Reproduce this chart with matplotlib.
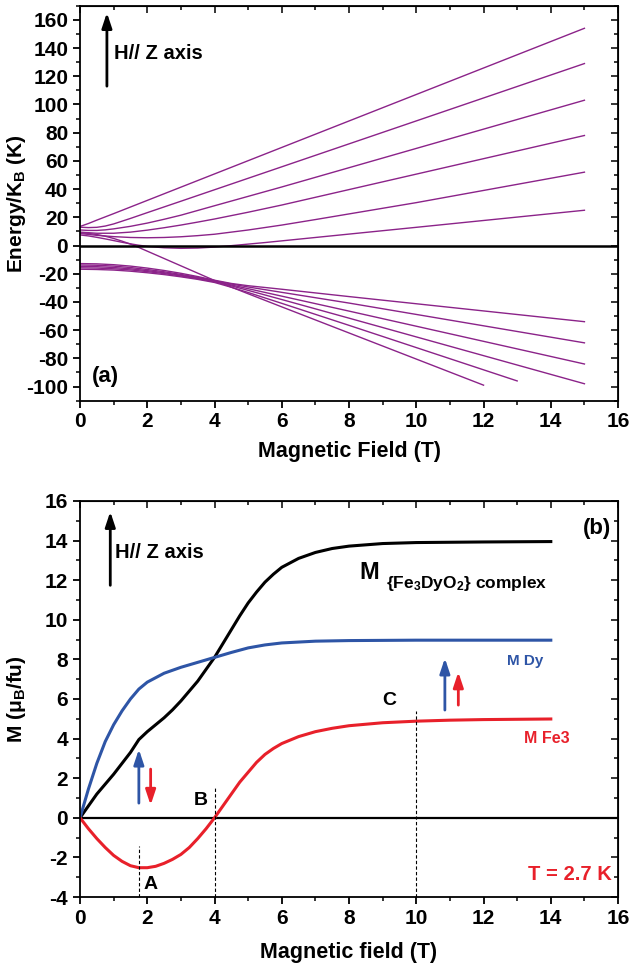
import numpy as np
import matplotlib
matplotlib.use('Agg')
import matplotlib.pyplot as plt
from matplotlib.ticker import MultipleLocator

plt.rcParams['font.family'] = ['Liberation Sans', 'DejaVu Sans']
plt.rcParams['font.weight'] = 'bold'
plt.rcParams['axes.labelweight'] = 'bold'
plt.rcParams['mathtext.default'] = 'regular'
plt.rcParams['axes.unicode_minus'] = False

# ---- panel (a): energy levels vs field ----
# upper fan
up1_B = [0, 0.25, 0.5, 1, 15]
up1_E = [13.5, 15.6, 18, 22.6, 154]
up2_B = [0, 0.25, 0.5, 0.75, 1, 1.5, 2, 3, 15]
up2_E = [13, 12.7, 12.9, 13.8, 15.3, 19.2, 23.3, 31.4, 129]
up3_B = [0, 0.25, 0.5, 0.75, 1, 1.5, 2, 2.5, 3, 4, 6, 15]
up3_E = [11, 10.7, 10.7, 11.1, 11.8, 13.6, 15.9, 18.6, 21.5, 28.2, 41.5, 103]
up4_B = [0, 0.5, 1, 1.5, 2, 2.5, 3, 3.5, 4, 5, 6, 15]
up4_E = [9.5, 8.7, 8.7, 9.5, 10.9, 12.6, 14.5, 16.6, 18.8, 23.6, 28.7, 78]
up5_B = [0, 0.5, 1, 1.5, 2, 2.5, 3, 3.5, 4, 5, 6, 7, 8, 10, 15]
up5_E = [8.5, 7.2, 6.3, 5.7, 5.5, 5.7, 6.2, 7.0, 8.0, 11.0, 14.5, 18.4, 22.4, 30.4, 52]
up6_B = [0, 0.25, 0.5, 0.75, 1, 1.25, 1.5, 1.75, 2, 2.5, 3, 3.5, 4, 4.5, 5, 5.5, 6, 7, 8, 10, 15]
up6_E = [7.5, 6.8, 5.8, 4.7, 3.5, 2.3, 1.2, 0.2, -0.6, -1.6, -2.0, -1.8, -1.1, -0.1, 1.0, 2.1,
         3.3, 5.7, 8.1, 12.9, 25]
# lower fan
lo_B = [0, 0.5, 1, 1.5, 2, 2.5, 3, 3.5, 4, 4.5, 5, 6, 8, 15]
lo1_E = [-12.8, -13.0, -13.6, -14.6, -16.0, -17.7, -19.7, -22.0, -24.6, -26.9, -28.5, -31.0, -36.2, -54]
lo2_E = [-13.8, -14.0, -14.6, -15.6, -17.0, -18.6, -20.5, -22.6, -25.0, -27.3, -29.4, -33.2, -40.8, -69]
lo3_E = [-14.8, -15.0, -15.6, -16.5, -17.8, -19.3, -21.1, -23.1, -25.4, -28.0, -30.6, -35.9, -46.5, -84]
lo4_E = [-15.8, -16.0, -16.5, -17.3, -18.5, -19.9, -21.6, -23.5, -25.7, -28.6, -31.8, -38.3, -51.5, -98]
lo5_B = [0, 0.5, 1, 1.5, 2, 2.5, 3, 3.5, 4, 4.5, 5, 6, 8, 13]
lo5_E = [-16.8, -17.0, -17.4, -18.2, -19.3, -20.6, -22.2, -24.0, -26.2, -29.6, -33.3, -41.0, -56.6, -96]
lo6_B = [0, 0.25, 0.5, 0.75, 1, 1.25, 1.5, 1.75, 2, 2.5, 3, 3.5, 4, 5, 6, 12]
lo6_E = [9, 8.6, 7.8, 6.6, 5.0, 3.1, 1.0, -1.4, -4.0, -9.2, -14.4, -19.6, -24.8, -34.2, -43.5, -99]

# ---- panel (b): magnetisation ----
mc_B = [0, 0.25, 0.5, 0.75, 1, 1.25, 1.5, 1.75, 2, 2.25, 2.5, 2.75, 3, 3.25, 3.5, 3.75, 4,
        4.25, 4.5, 4.75, 5, 5.25, 5.5, 5.75, 6, 6.5, 7, 7.5, 8, 9, 10, 12, 14]
mc_M = [0, 0.6, 1.2, 1.7, 2.2, 2.75, 3.3, 3.95, 4.35, 4.7, 5.05, 5.45, 5.9, 6.4, 6.9, 7.5, 8.1,
        8.8, 9.5, 10.2, 10.85, 11.4, 11.9, 12.3, 12.65, 13.1, 13.4, 13.6, 13.72, 13.85, 13.9,
        13.93, 13.95]
mdy_B = [0, 0.25, 0.5, 0.75, 1, 1.25, 1.5, 1.75, 2, 2.5, 3, 3.5, 4, 4.5, 5, 5.5, 6, 7, 8, 10, 14]
mdy_M = [0, 1.45, 2.75, 3.85, 4.7, 5.4, 6.0, 6.5, 6.85, 7.3, 7.6, 7.85, 8.1, 8.35, 8.58, 8.73,
         8.83, 8.92, 8.95, 8.97, 8.97]
mfe_B = [0, 0.25, 0.5, 0.75, 1, 1.25, 1.5, 1.75, 2, 2.25, 2.5, 2.75, 3, 3.25, 3.5, 3.75, 4,
         4.25, 4.5, 4.75, 5, 5.25, 5.5, 5.75, 6, 6.5, 7, 7.5, 8, 9, 10, 11, 12, 14]
mfe_M = [0, -0.55, -1.05, -1.5, -1.9, -2.2, -2.42, -2.52, -2.52, -2.45, -2.3, -2.1, -1.85, -1.5,
         -1.05, -0.55, 0, 0.6, 1.2, 1.8, 2.3, 2.8, 3.2, 3.5, 3.75, 4.1, 4.35, 4.52, 4.65, 4.8,
         4.88, 4.93, 4.96, 4.99]

purple = '#8b2389'
blue = '#2e55a6'
red = '#e8202a'

fig = plt.figure(figsize=(6.33, 9.69), dpi=100)
axA = fig.add_axes([0.1264, 0.5865, 0.850, 0.4076])
axB = fig.add_axes([0.1264, 0.0743, 0.850, 0.4087])


def style(ax, ymaj, ymin):
    ax.xaxis.set_major_locator(MultipleLocator(2))
    ax.xaxis.set_minor_locator(MultipleLocator(1))
    ax.yaxis.set_major_locator(MultipleLocator(ymaj))
    ax.yaxis.set_minor_locator(MultipleLocator(ymin))
    ax.tick_params(which='major', direction='out', length=5, width=1.3, labelsize=15)
    ax.tick_params(which='minor', direction='out', length=3, width=1.1)
    for sp in ax.spines.values():
        sp.set_linewidth(1.3)
    top = ax.secondary_xaxis('top')
    top.xaxis.set_major_locator(MultipleLocator(2))
    top.xaxis.set_minor_locator(MultipleLocator(1))
    top.tick_params(which='both', direction='in', labeltop=False, width=1.1)
    top.tick_params(which='major', length=5)
    top.tick_params(which='minor', length=3)
    right = ax.secondary_yaxis('right')
    right.yaxis.set_major_locator(MultipleLocator(ymaj))
    right.yaxis.set_minor_locator(MultipleLocator(ymin))
    right.tick_params(which='both', direction='in', labelright=False, width=1.1)
    right.tick_params(which='major', length=5)
    right.tick_params(which='minor', length=3)


# panel (a)
for b, e in [(up1_B, up1_E), (up2_B, up2_E), (up3_B, up3_E), (up4_B, up4_E),
             (up5_B, up5_E), (up6_B, up6_E), (lo_B, lo1_E), (lo_B, lo2_E),
             (lo_B, lo3_E), (lo_B, lo4_E), (lo5_B, lo5_E), (lo6_B, lo6_E)]:
    axA.plot(b, e, color=purple, lw=1.0)
axA.axhline(0, color='black', lw=1.8)
axA.set_xlim(0, 16)
axA.set_ylim(-110, 170)
style(axA, 20, 10)
axA.set_xlabel('Magnetic Field (T)', fontsize=15.5, labelpad=7)
axA.set_ylabel('Energy/K$_\\mathregular{B}$ (K)', fontsize=15)
axA.yaxis.set_label_coords(-0.097, 0.5)
axA.annotate('', xy=(0.8, 167), xytext=(0.8, 111),
             arrowprops=dict(arrowstyle='-|>,head_length=0.9,head_width=0.3',
                             color='black', lw=2))
axA.text(1.0, 136, 'H// Z axis', fontsize=14.5, va='center', ha='left')
axA.text(0.35, -93, '(a)', fontsize=16, va='center', ha='left')

# panel (b)
axB.axhline(0, color='black', lw=1.6)
axB.plot(mc_B, mc_M, color='black', lw=2.2)
axB.plot(mdy_B, mdy_M, color=blue, lw=2.2)
axB.plot(mfe_B, mfe_M, color=red, lw=2.2)
axB.set_xlim(0, 16)
axB.set_ylim(-4, 16)
style(axB, 2, 1)
axB.set_xlabel('Magnetic field (T)', fontsize=15.5, labelpad=10)
axB.set_ylabel('M (μ$_\\mathregular{B}$/fu)', fontsize=15)
axB.yaxis.set_label_coords(-0.097, 0.5)

for xv, ytop in [(1.75, -1.4), (4.0, 1.5), (10.0, 5.4)]:
    axB.plot([xv, xv], [-4, ytop], color='black', lw=0.8, ls=(0, (3, 2)))

ahead = '-|>,head_length=0.9,head_width=0.3'
axB.annotate('', xy=(0.9, 15.6), xytext=(0.9, 11.6),
             arrowprops=dict(arrowstyle=ahead, color='black', lw=2))
axB.text(1.05, 13.4, 'H// Z axis', fontsize=14.5, va='center', ha='left')
axB.annotate('', xy=(1.75, 3.6), xytext=(1.75, 0.6),
             arrowprops=dict(arrowstyle=ahead, color=blue, lw=2))
axB.annotate('', xy=(2.1, 0.5), xytext=(2.1, 2.6),
             arrowprops=dict(arrowstyle=ahead, color=red, lw=2))
axB.annotate('', xy=(10.85, 8.2), xytext=(10.85, 5.3),
             arrowprops=dict(arrowstyle=ahead, color=blue, lw=2))
axB.annotate('', xy=(11.25, 7.5), xytext=(11.25, 5.55),
             arrowprops=dict(arrowstyle=ahead, color=red, lw=2))

axB.text(15.8, 14.6, '(b)', fontsize=16, ha='right', va='center')
axB.text(8.3, 12.4, 'M', fontsize=17, ha='left', va='center')
axB.text(9.1, 11.85, '{Fe$_\\mathregular{3}$DyO$_\\mathregular{2}$} complex', fontsize=12.5,
         ha='left', va='center')
axB.text(12.7, 7.9, 'M Dy', fontsize=11, color=blue, ha='left', va='center')
axB.text(13.2, 4.0, 'M Fe3', fontsize=11.5, color=red, ha='left', va='center')
axB.text(15.8, -2.85, 'T = 2.7 K', fontsize=14.5, color=red, ha='right', va='center')
axB.text(2.1, -3.35, 'A', fontsize=14, ha='center', va='center')
axB.text(3.6, 0.85, 'B', fontsize=14, ha='center', va='center')
axB.text(9.2, 5.9, 'C', fontsize=14, ha='center', va='center')

fig.savefig('out.png', dpi=100)
